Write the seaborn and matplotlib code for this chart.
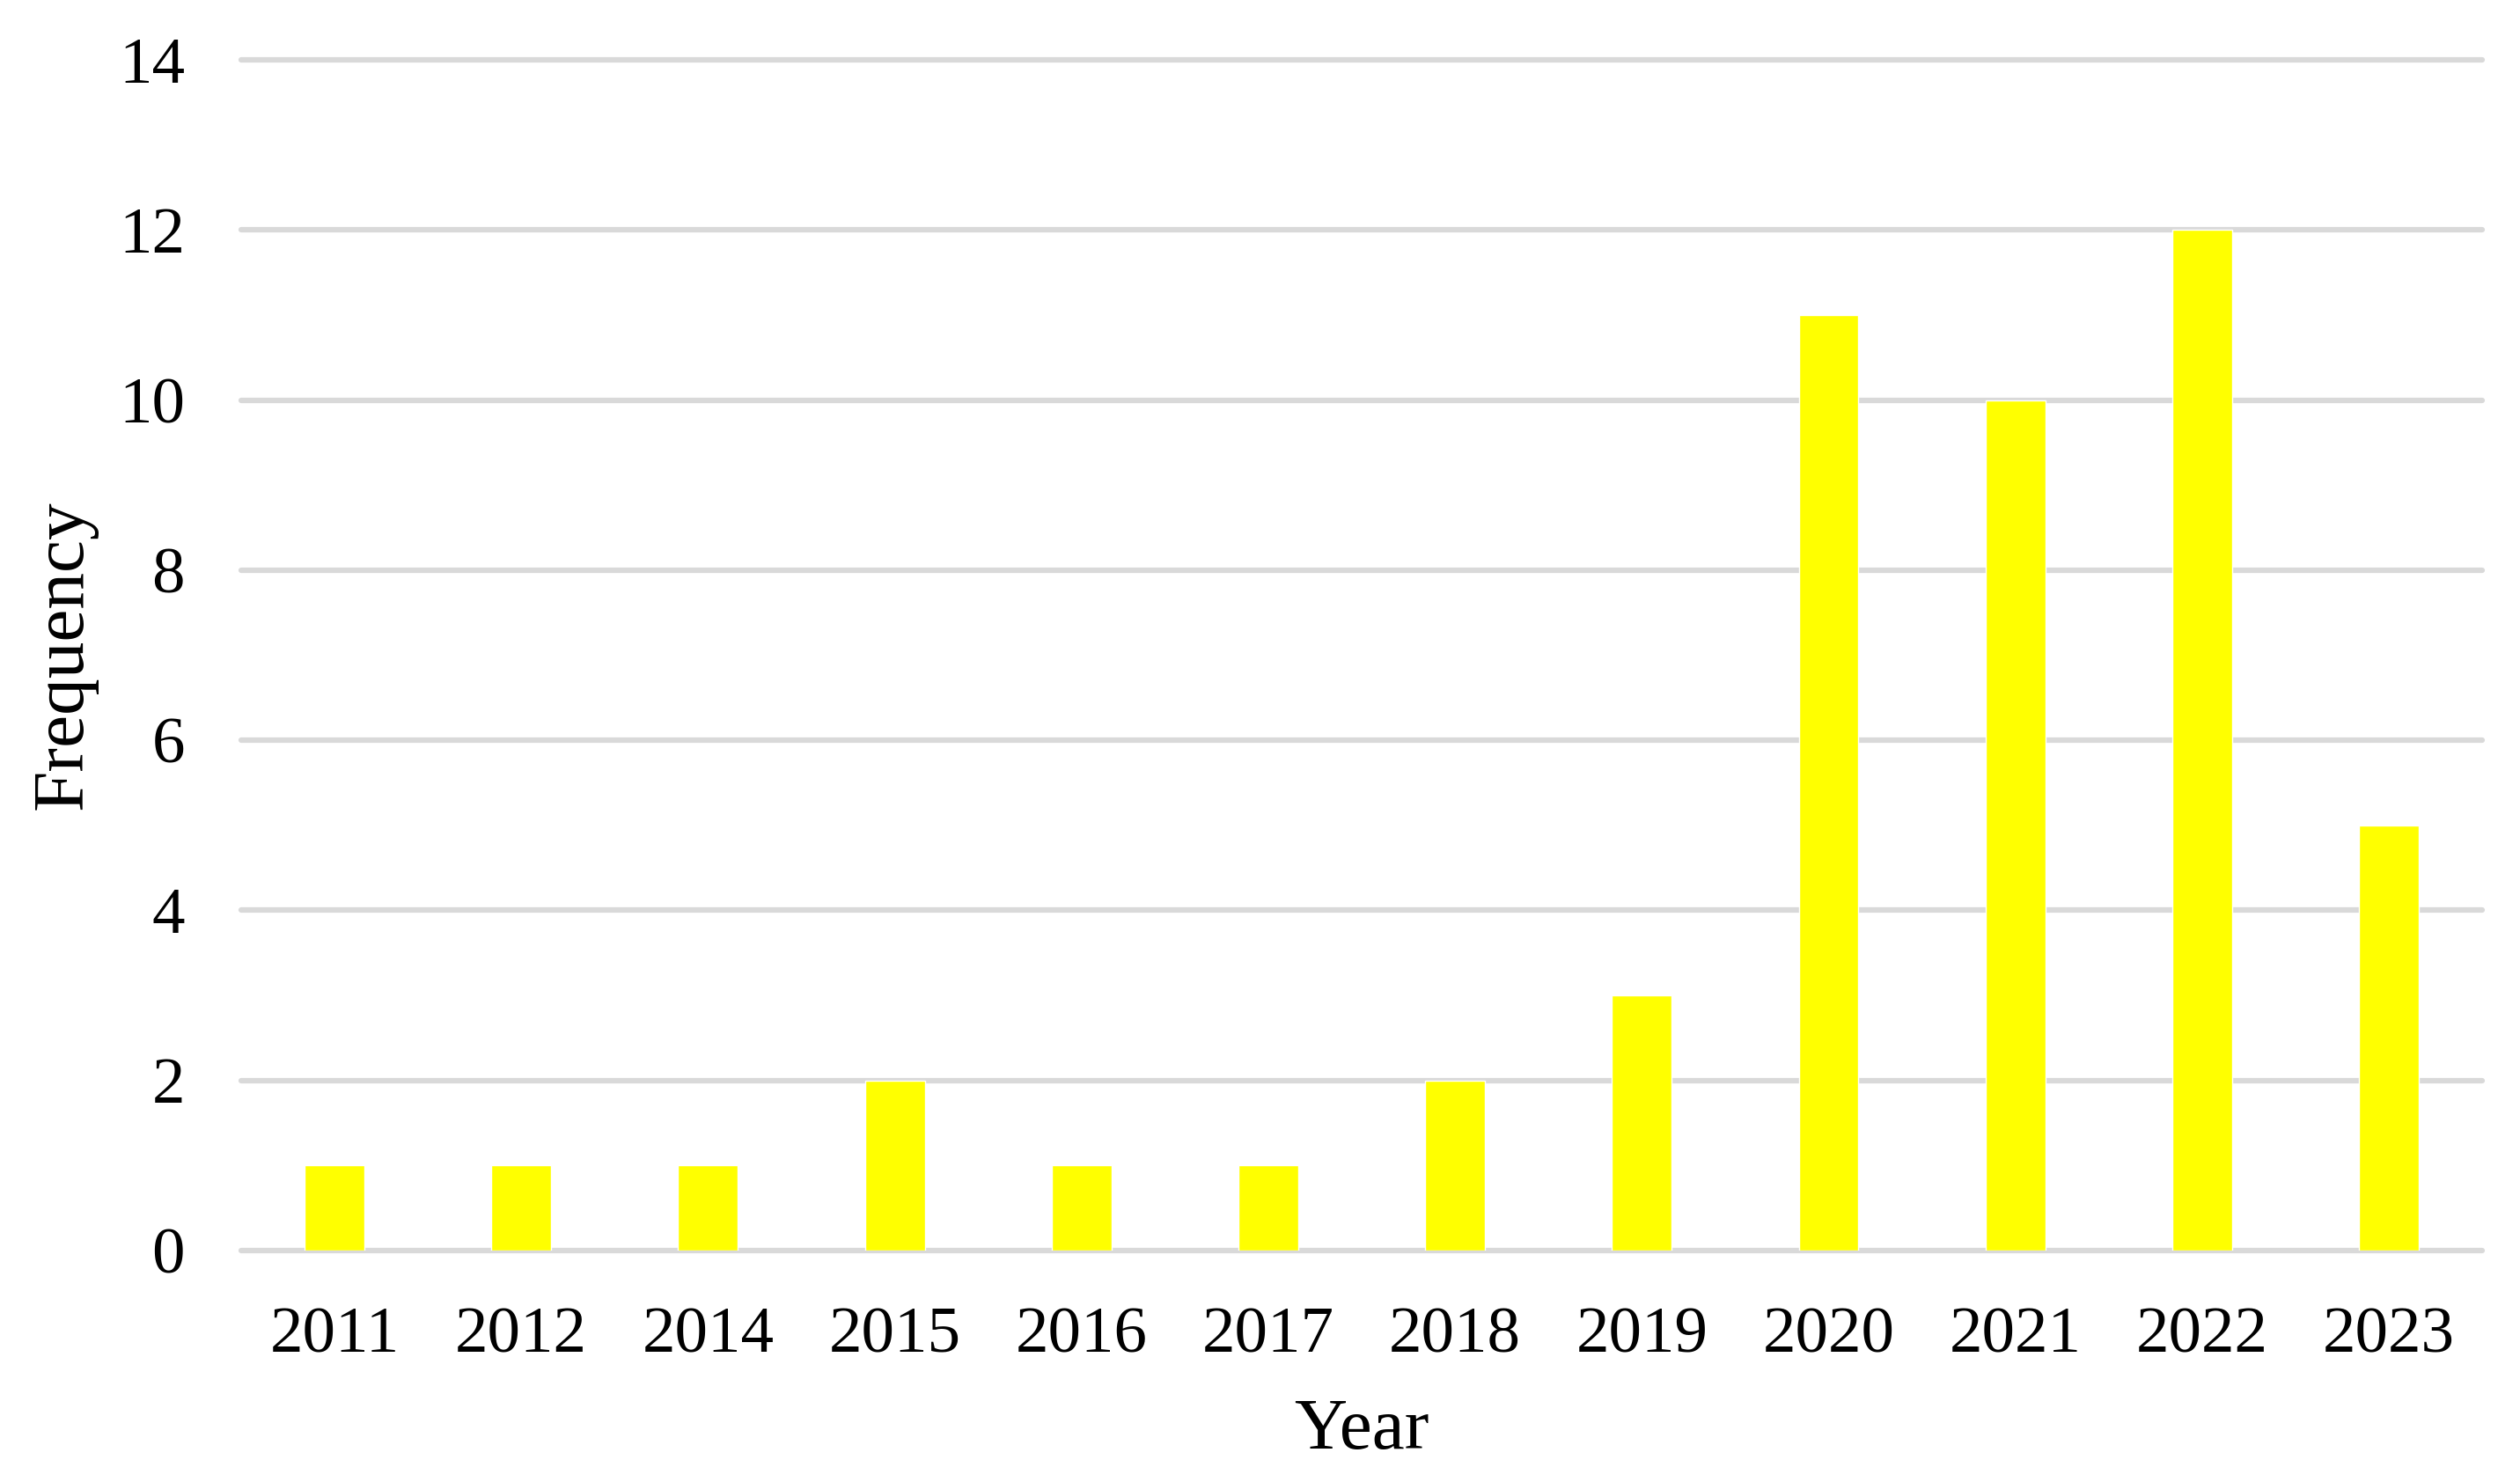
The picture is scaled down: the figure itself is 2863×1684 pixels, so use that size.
import matplotlib
matplotlib.use("Agg")
import matplotlib.pyplot as plt
import pandas as pd
import seaborn as sns

# Values
years = ['2011', '2012', '2014', '2015', '2016', '2017', '2018', '2019', '2020', '2021', '2022', '2023']
frequency = [1, 1, 1, 2, 1, 1, 2, 3, 11, 10, 12, 5]

df = pd.DataFrame({'Year': years, 'Frequency': frequency})

sns.set_theme(style='white')
plt.rcParams['font.family'] = ['Liberation Serif', 'DejaVu Serif']

fig = plt.figure(figsize=(28.63, 16.84), dpi=100)
ax = fig.add_axes([0.0957, 0.1562, 0.8893, 0.8034])

sns.barplot(data=df, x='Year', y='Frequency', color='#FFFF00', saturation=1,
            width=0.32, ax=ax, zorder=3)

ax.set_ylim(0, 14)
ax.set_xlim(-0.5, len(years) - 0.5)
ax.set_yticks(range(0, 15, 2))
ax.yaxis.grid(True, color='#d9d9d9', linewidth=4.5, zorder=0)
for gl in ax.get_ygridlines():
    gl.set_clip_on(False)
ax.set_axisbelow(True)
for s in ax.spines.values():
    s.set_visible(False)

ax.tick_params(axis='both', length=0, labelsize=54, colors='black')
ax.tick_params(axis='y', pad=46)
ax.tick_params(axis='x', pad=46)

ax.set_xlabel('Year', fontsize=60, color='black', va='center')
ax.set_ylabel('Frequency', fontsize=60, color='black', va='center')
ax.xaxis.set_label_coords(0.5, -0.152)
ax.yaxis.set_label_coords(-0.079, 0.5)

fig.savefig('out.png', dpi=100)
